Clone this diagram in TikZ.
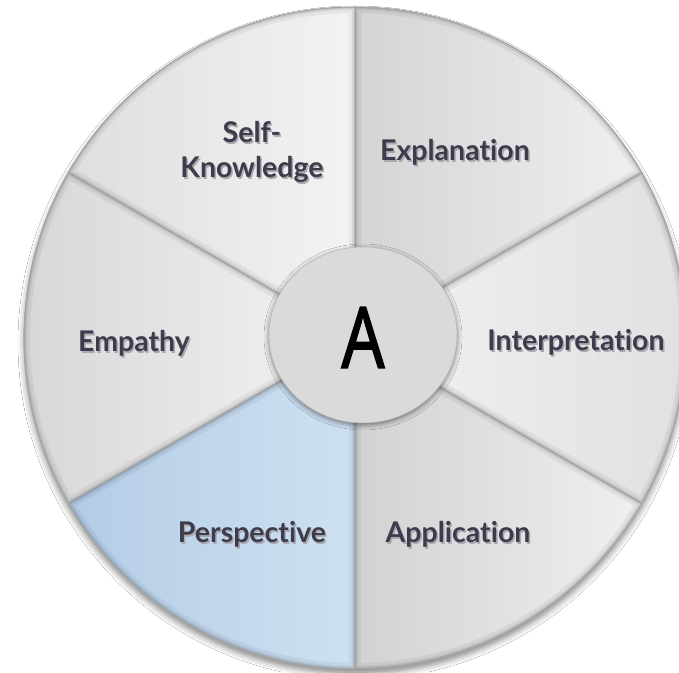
\documentclass[tikz,border=0pt]{standalone}
\usepackage{fontspec}
\setmainfont{Lato}[Ligatures={NoCommon,NoContextual,NoRequired}]
\newfontfamily\afont{Noto Sans}[FakeBold=1.6]
\usetikzlibrary{shadows.blur,shapes.geometric}
\definecolor{labelc}{RGB}{60,60,76}
\definecolor{shc}{RGB}{170,170,176}
\definecolor{exL}{RGB}{212,212,212}\definecolor{exR}{RGB}{240,240,240}
\definecolor{skL}{RGB}{222,222,222}\definecolor{skR}{RGB}{243,243,243}
\definecolor{emL}{RGB}{214,214,214}\definecolor{emR}{RGB}{244,244,244}
\definecolor{peL}{RGB}{180,204,230}\definecolor{peR}{RGB}{206,225,242}
\definecolor{apL}{RGB}{210,210,210}\definecolor{apR}{RGB}{240,240,240}
\definecolor{inL}{RGB}{242,242,242}\definecolor{inR}{RGB}{224,224,224}
\definecolor{hubc}{RGB}{218,218,218}
\newcommand\shtext[1]{\leavevmode\rlap{\kern1.5pt\raisebox{-2pt}{\textcolor{shc}{#1}}}#1}
\begin{document}
\begin{tikzpicture}[x=1pt,y=1pt,
  lbl/.style={font=\fontsize{28.5}{35}\selectfont\bfseries, text=labelc, align=center, inner sep=0pt},
  rim/.style={draw=gray!70, line width=0.8pt},
]
\useasboundingbox (0,0) rectangle (679,672);
\fill[white] (0,0) rectangle (679,672);
\clip (0,0) rectangle (679,672);
\coordinate (O) at (355,334);
% disk shadow
\path[fill=white, blur shadow={shadow xshift=0pt, shadow yshift=-5pt, shadow blur radius=6pt, shadow opacity=45}] (O) circle (331);
% sectors
\foreach \a/\b/\cl/\cr in {30/90/exL/exR, 90/150/skL/skR, 150/210/emL/emR, 210/270/peL/peR, 270/330/apL/apR, 330/390/inL/inR}{
  \path[left color=\cl, right color=\cr] (O) -- ++(\a:331) arc[start angle=\a, end angle=\b, radius=331] -- cycle;
  \begin{scope}
    \clip (O) -- ++(\a:331) arc[start angle=\a, end angle=\b, radius=331] -- cycle;
    \draw[line width=12pt, black, opacity=0.05] (O) -- ++(\a:331) arc[start angle=\a, end angle=\b, radius=331] -- cycle;
    \draw[line width=6pt, black, opacity=0.07] (O) -- ++(\a:331) arc[start angle=\a, end angle=\b, radius=331] -- cycle;
    \draw[line width=2.5pt, black, opacity=0.10] (O) -- ++(\a:331) arc[start angle=\a, end angle=\b, radius=331] -- cycle;
  \end{scope}
  \draw[draw=gray!75, line width=0.7pt] (O) -- ++(\a:331) arc[start angle=\a, end angle=\b, radius=331] -- cycle;
}
\draw[rim] (O) circle (331);
% hub
\node[ellipse, minimum width=188pt, minimum height=176pt, inner sep=0pt, fill=hubc, draw=gray!55, line width=0.5pt,
  blur shadow={shadow xshift=0pt, shadow yshift=-2pt, shadow blur radius=5pt, shadow opacity=50}] (hub) at (363,337) {};
\node[anchor=base, inner sep=0pt, font=\afont\fontsize{85}{85}\selectfont] (A) at (363,304) {\scalebox{0.8}[1]{A}};
% labels
\foreach \n/\x/\y/\t in {ex/455/511/Explanation, em/134/320/Empathy, in/576/321/Interpretation, pe/252/130/Perspective, ap/458/130/Application}{
  \node[lbl, anchor=base] (\n) at (\x,\y) {\shtext{\t}};
}
\node[lbl] (sk) at (252,519) {\shtext{Self-}\\\shtext{Knowledge}};
\end{tikzpicture}
\end{document}
